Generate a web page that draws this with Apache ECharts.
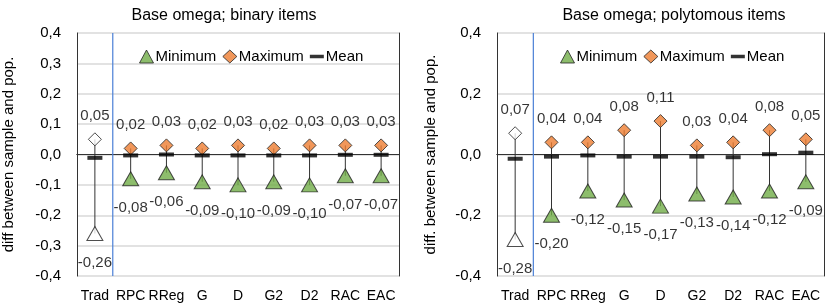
<!DOCTYPE html>
<html>
<head>
<meta charset="utf-8">
<script src="https://cdn.jsdelivr.net/npm/echarts@6/dist/echarts.min.js"></script>
<style>
  html, body { margin: 0; padding: 0; background: #fff; }
  #chart { width: 829px; height: 308px; }
</style>
</head>
<body>
<div id="chart"></div>
<script>
// categories shared by both panels
const methods = ["Trad", "RPC", "RReg", "G", "D", "G2", "D2", "RAC", "EAC"];

// binary items
const binMin = [-0.26, -0.08, -0.06, -0.09, -0.10, -0.09, -0.10, -0.07, -0.07];
const binMax = [0.05, 0.02, 0.03, 0.02, 0.03, 0.02, 0.03, 0.03, 0.03];
const binMean = [-0.011, -0.003, 0, -0.003, -0.003, -0.003, -0.003, -0.001, -0.001];

// polytomous items
const polyMin = [-0.28, -0.20, -0.12, -0.15, -0.17, -0.13, -0.14, -0.12, -0.09];
const polyMax = [0.07, 0.04, 0.04, 0.08, 0.11, 0.03, 0.04, 0.08, 0.05];
const polyMean = [-0.014, -0.007, -0.003, -0.007, -0.007, -0.007, -0.009, 0.001, 0.006];

const font = "Liberation Sans, Arial, sans-serif";
const green = "#70AD47";
const orange = "#ED7D31";
const fmt = p => p.value[1].toFixed(2).replace(".", ",");

const chart = echarts.init(document.getElementById("chart"));

function markerData(vals, color) {
  // Trad is drawn with hollow markers
  return vals.map((v, i) => ({
    value: [i, v],
    itemStyle: { color: i === 0 ? "#fff" : color }
  }));
}

function panelSeries(idx, mins, maxs, means) {
  return [
    {
      // whiskers from min to max, plus the blue separator after Trad
      type: "custom",
      xAxisIndex: idx,
      yAxisIndex: idx,
      silent: true,
      z: 1,
      data: mins.map((v, i) => [i, v, maxs[i]]),
      encode: { x: 0, y: [1, 2] },
      renderItem: (params, api) => {
        const a = api.coord([api.value(0), api.value(1)]);
        const b = api.coord([api.value(0), api.value(2)]);
        const children = [{
          type: "line",
          shape: { x1: a[0], y1: a[1], x2: b[0], y2: b[1] },
          style: { stroke: "#333", lineWidth: 1 }
        }];
        if (params.dataIndex === 0) {
          const half = api.size([1, 0])[0] / 2;
          const top = api.coord([0, 0.4]);
          const bot = api.coord([0, -0.4]);
          children.push({
            type: "line",
            shape: { x1: top[0] + half, y1: top[1], x2: bot[0] + half, y2: bot[1] },
            style: { stroke: "#4A7FD6", lineWidth: 1.2 }
          });
        }
        return { type: "group", children: children };
      }
    },
    {
      name: "Minimum",
      type: "scatter",
      xAxisIndex: idx,
      yAxisIndex: idx,
      symbol: "triangle",
      symbolSize: [16, 14],
      z: 3,
      itemStyle: { color: green, borderColor: "#222", borderWidth: 1 },
      label: {
        show: true, position: "bottom", distance: 14,
        formatter: fmt, fontFamily: font, fontSize: 15, color: "#000"
      },
      data: markerData(mins, green)
    },
    {
      name: "Maximum",
      type: "scatter",
      xAxisIndex: idx,
      yAxisIndex: idx,
      symbol: "diamond",
      symbolSize: [13, 13],
      z: 3,
      itemStyle: { color: orange, borderColor: "#222", borderWidth: 1 },
      label: {
        show: true, position: "top", distance: 9,
        formatter: fmt, fontFamily: font, fontSize: 15, color: "#000"
      },
      data: markerData(maxs, orange)
    },
    {
      name: "Mean",
      type: "scatter",
      xAxisIndex: idx,
      yAxisIndex: idx,
      symbol: "rect",
      symbolSize: [15, 4],
      z: 4,
      itemStyle: { color: "#000" },
      data: means.map((v, i) => [i, v])
    }
  ];
}

function legendFor(left) {
  return {
    left: left,
    top: 44,
    itemGap: 6,
    itemWidth: 14,
    itemHeight: 13,
    textStyle: { fontFamily: font, fontSize: 15, color: "#000", padding: [0, 0, 0, -3] },
    selectedMode: false,
    data: [
      { name: "Minimum", icon: "triangle", itemStyle: { color: green, borderColor: "#222", borderWidth: 1 } },
      { name: "Maximum", icon: "diamond", itemStyle: { color: orange, borderColor: "#222", borderWidth: 1 } },
      { name: "Mean", icon: "path://M0,0H16V4H0Z", itemStyle: { color: "#000" } }
    ]
  };
}

function xAxisFor(idx) {
  return {
    type: "category",
    gridIndex: idx,
    data: methods,
    axisLine: { show: true, lineStyle: { color: "#333", width: 1 } },
    axisTick: { show: false },
    axisLabel: { interval: 0, fontFamily: font, fontSize: 14, color: "#000", margin: 13 }
  };
}

// bare axes on the top/right edge, just to close the plot frame
function frameX(idx) {
  return {
    type: "category", gridIndex: idx, position: "top", data: methods,
    axisLine: { show: true, lineStyle: { color: "#333", width: 1 } },
    axisTick: { show: false }, axisLabel: { show: false }, splitLine: { show: false }
  };
}

function frameY(idx) {
  return {
    type: "value", gridIndex: idx, position: "right", min: -0.4, max: 0.4,
    axisLine: { show: true, lineStyle: { color: "#333", width: 1 } },
    axisTick: { show: false }, axisLabel: { show: false }, splitLine: { show: false }
  };
}

function yAxisFor(idx, name, step, gap) {
  return {
    type: "value",
    gridIndex: idx,
    position: "left",
    min: -0.4,
    max: 0.4,
    interval: step,
    name: name,
    nameLocation: "middle",
    nameGap: gap,
    nameTextStyle: { fontFamily: font, fontSize: 15, color: "#000" },
    axisLine: { show: true, lineStyle: { color: "#333", width: 1 } },
    axisTick: { show: false },
    axisLabel: {
      fontFamily: font, fontSize: 15, color: "#000", margin: 16,
      formatter: v => v.toFixed(1).replace(".", ",")
    },
    splitLine: { lineStyle: { color: "#d9d9d9", width: 1.5 } }
  };
}

const titleStyle = { fontFamily: font, fontSize: 16, fontWeight: "normal", color: "#000" };

chart.setOption({
  animation: false,
  title: [
    { text: "Base omega; binary items", left: 219, top: 3, textAlign: "center", textStyle: titleStyle },
    { text: "Base omega; polytomous items", left: 669, top: 3, textAlign: "center", textStyle: titleStyle }
  ],
  legend: [legendFor(134), legendFor(555)],
  grid: [
    { left: 75, right: 430, top: 33, bottom: 32 },
    { left: 497, right: 5, top: 33, bottom: 32 }
  ],
  xAxis: [xAxisFor(0), xAxisFor(1), frameX(0), frameX(1)],
  yAxis: [
    yAxisFor(0, "diff between sample and pop.", 0.1, 61),
    yAxisFor(1, "diff. between sample and pop.", 0.2, 59),
    frameY(0),
    frameY(1)
  ],
  series: [
    ...panelSeries(0, binMin, binMax, binMean),
    ...panelSeries(1, polyMin, polyMax, polyMean)
  ]
});
</script>
</body>
</html>
